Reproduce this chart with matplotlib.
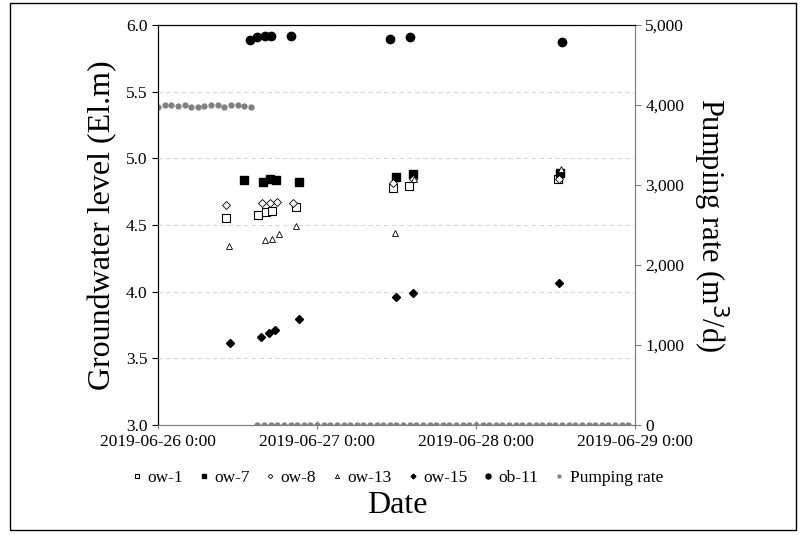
import numpy as np
import pandas as pd
import matplotlib
matplotlib.use("Agg")
import matplotlib.pyplot as plt
from matplotlib.ticker import FuncFormatter, MultipleLocator
from matplotlib.patches import Rectangle

plt.rcParams['font.family'] = ['Liberation Serif', 'DejaVu Serif']

# observation times / levels (El.m)
t_ow1 = ["2019-06-26 10:20", "2019-06-26 15:05", "2019-06-26 16:20", "2019-06-26 17:15",
         "2019-06-26 20:50", "2019-06-27 11:25", "2019-06-27 13:55", "2019-06-28 12:20"]
ow1 = [4.55, 4.573, 4.595, 4.605, 4.633, 4.775, 4.795, 4.843]

t_ow7 = ["2019-06-26 12:55", "2019-06-26 15:50", "2019-06-26 16:55", "2019-06-26 17:45",
         "2019-06-26 21:20", "2019-06-27 12:00", "2019-06-27 14:25", "2019-06-28 12:40"]
ow7 = [4.838, 4.825, 4.845, 4.838, 4.825, 4.858, 4.880, 4.892]

t_ow8 = ["2019-06-26 10:15", "2019-06-26 15:40", "2019-06-26 16:55", "2019-06-26 18:00",
         "2019-06-26 20:20", "2019-06-27 11:25", "2019-06-27 14:30", "2019-06-28 12:30"]
ow8 = [4.65, 4.663, 4.663, 4.67, 4.663, 4.817, 4.843, 4.843]

t_ow13 = ["2019-06-26 10:45", "2019-06-26 16:05", "2019-06-26 17:10", "2019-06-26 18:15",
          "2019-06-26 20:50", "2019-06-27 11:50", "2019-06-27 14:35", "2019-06-28 12:50"]
ow13 = [4.343, 4.388, 4.397, 4.433, 4.495, 4.442, 4.843, 4.922]

t_ow15 = ["2019-06-26 10:50", "2019-06-26 15:35", "2019-06-26 16:45", "2019-06-26 17:40",
          "2019-06-26 21:20", "2019-06-27 11:55", "2019-06-27 14:30", "2019-06-28 12:30"]
ow15 = [3.613, 3.658, 3.693, 3.713, 3.793, 3.962, 3.988, 4.063]

t_ob11 = ["2019-06-26 13:55", "2019-06-26 15:00", "2019-06-26 16:10", "2019-06-26 17:05",
          "2019-06-26 20:05", "2019-06-27 11:00", "2019-06-27 14:00", "2019-06-28 12:55"]
ob11 = [5.885, 5.908, 5.917, 5.917, 5.917, 5.897, 5.908, 5.870]

# pumping rate (m3/d), hourly
pump_on = [3979, 3996, 4004, 3991, 3996, 3971, 3979, 3988, 3996, 3996, 3971, 4004, 4000, 3988, 3979]
pump_off = [0] * 57
t_pump = pd.date_range("2019-06-26 00:00", periods=len(pump_on) + len(pump_off), freq="h")
pump = pump_on + pump_off

xticks = ["2019-06-26", "2019-06-27", "2019-06-28", "2019-06-29"]
xtick_labels = ["2019-06-26 0:00", "2019-06-27 0:00", "2019-06-28 0:00", "2019-06-29 0:00"]

fig = plt.figure(figsize=(8.12, 5.35), dpi=100)
ax = fig.add_axes([0.1946, 0.2056, 0.5874, 0.7477])
ax2 = ax.twinx()

ax.set_zorder(ax2.get_zorder() + 1)
ax.patch.set_visible(False)

d = pd.to_datetime
ax.plot(d(t_ow1), ow1, ls='none', marker='s', ms=5.5, mfc='white', mec='black', mew=0.8, label='ow-1')
ax.plot(d(t_ow7), ow7, ls='none', marker='s', ms=5.5, mfc='black', mec='black', label='ow-7')
ax.plot(d(t_ow8), ow8, ls='none', marker='D', ms=4, mfc='white', mec='black', mew=0.6, label='ow-8')
ax.plot(d(t_ow13), ow13, ls='none', marker='^', ms=5, mfc='white', mec='black', mew=0.6, label='ow-13')
ax.plot(d(t_ow15), ow15, ls='none', marker='D', ms=4, mfc='black', mec='black', label='ow-15')
ax.plot(d(t_ob11), ob11, ls='none', marker='o', ms=6, mfc='black', mec='black', label='ob-11')
ax2.plot(t_pump, pump, ls='none', marker='o', ms=3.5, mfc='#808080', mec='#808080', label='Pumping rate')

ax.set_ylim(3.0, 6.0)
ax.yaxis.set_major_locator(MultipleLocator(0.5))
ax.yaxis.set_major_formatter(FuncFormatter(lambda v, p: f"{v:.1f}"))
ax.set_xlim(d(xticks[0]), d(xticks[-1]))
ax.set_xticks(d(xticks))
ax.set_xticklabels(xtick_labels)
ax.grid(axis='y', ls=(0, (4, 3)), color='#d9d9d9', lw=0.8)

ax2.set_ylim(0, 5000)
ax2.yaxis.set_major_locator(MultipleLocator(1000))
ax2.yaxis.set_major_formatter(FuncFormatter(lambda v, p: f"{int(v):,}"))

ax.tick_params(axis='both', labelsize=12.5, length=4, width=0.8, direction='out')
ax.tick_params(axis='x', colors='#808080', labelcolor='black', direction='inout', length=6)
ax2.tick_params(axis='y', labelsize=12.5, length=4, width=0.8, colors='#808080', labelcolor='black')

for a in (ax, ax2):
    a.spines['left'].set_color('black')
    a.spines['top'].set_color('black')
    a.spines['bottom'].set_color('#808080')
    a.spines['right'].set_color('#808080')

ax.set_ylabel("Groundwater level (El.m)", fontsize=23, labelpad=6)
ax2.set_ylabel("Pumping rate (m$^3$/d)", fontsize=22, rotation=270, va='center')
ax2.yaxis.set_label_coords(1.158, 0.5)
fig.text(0.4893, 0.055, "Date", fontsize=23, ha='center', va='center')

h1, l1 = ax.get_legend_handles_labels()
h2, l2 = ax2.get_legend_handles_labels()
fig.legend(h1 + h2, l1 + l2, loc='center', bbox_to_anchor=(0.4893, 0.107), ncol=7, frameon=False,
           fontsize=12.5, handlelength=0.6, handletextpad=0.3, columnspacing=0.9, markerscale=0.6)

fig.patches.append(Rectangle((0.0123, 0.009), 0.968, 0.985, transform=fig.transFigure,
                             fill=False, ec='black', lw=1))

fig.savefig("out.png", dpi=100)
